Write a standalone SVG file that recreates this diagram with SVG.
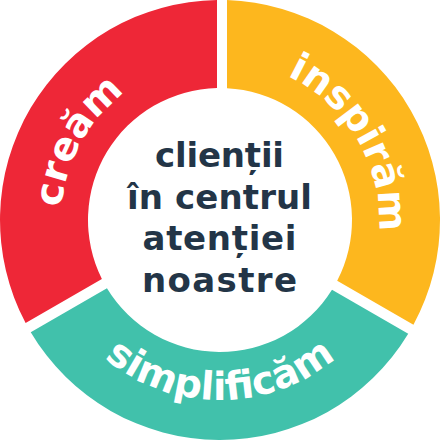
<svg xmlns="http://www.w3.org/2000/svg" xmlns:xlink="http://www.w3.org/1999/xlink" width="440" height="440" viewBox="0 0 440 440">
  <style>
    .ring { font-family: "DejaVu Sans", "Liberation Sans", sans-serif; font-weight: bold; font-size: 39px; fill: #ffffff; }
    .center { font-family: "DejaVu Sans", "Liberation Sans", sans-serif; font-weight: bold; font-size: 34px; fill: #233547; text-anchor: middle; }
  </style>
  <defs>
    <path id="arc-create" d="M 83.7,301.9 A 159 159 0 0 1 217.23,61.02"/>
    <path id="arc-inspire" d="M 218.89,61.0 A 159 159 0 0 1 358.25,298.53"/>
    <path id="arc-simplify" d="M 64.12,310 A 180 180 0 0 0 375.88,310"/>
  </defs>
  <rect width="440" height="440" fill="#ffffff"/>
  <g id="seg-create">
    <path d="M 101.89,278.95 L 25.61,323.0 A 220 220 0 0 1 217,0.02 L 217,88.03 A 132 132 0 0 0 101.89,278.95 Z" fill="#EE2737"/>
    <text class="ring"><textPath xlink:href="#arc-create" href="#arc-create" startOffset="50%" text-anchor="middle">creăm</textPath></text>
  </g>
  <g id="seg-inspire">
    <path d="M 227,88.19 L 227,0.11 A 220 220 0 0 1 413.45,324.76 L 337.19,280.73 A 132 132 0 0 0 227,88.19 Z" fill="#FDB71E"/>
    <text class="ring"><textPath xlink:href="#arc-inspire" href="#arc-inspire" startOffset="50%" text-anchor="middle">inspirăm</textPath></text>
  </g>
  <g id="seg-simplify">
    <path d="M 331.99,289.86 L 408.23,333.87 A 220 220 0 0 1 30.74,332.16 L 106.96,288.15 A 132 132 0 0 0 331.99,289.86 Z" fill="#41C1AB"/>
    <text class="ring"><textPath xlink:href="#arc-simplify" href="#arc-simplify" startOffset="50%" text-anchor="middle">simplificăm</textPath></text>
  </g>
  <g id="center">
    <text class="center" x="219.5" y="167" textLength="129">clienții</text>
    <text class="center" x="219.5" y="208.5" textLength="185">în centrul</text>
    <text class="center" x="219.5" y="250" textLength="154">atenției</text>
    <text class="center" x="219.5" y="291.5" textLength="155">noastre</text>
  </g>
</svg>
